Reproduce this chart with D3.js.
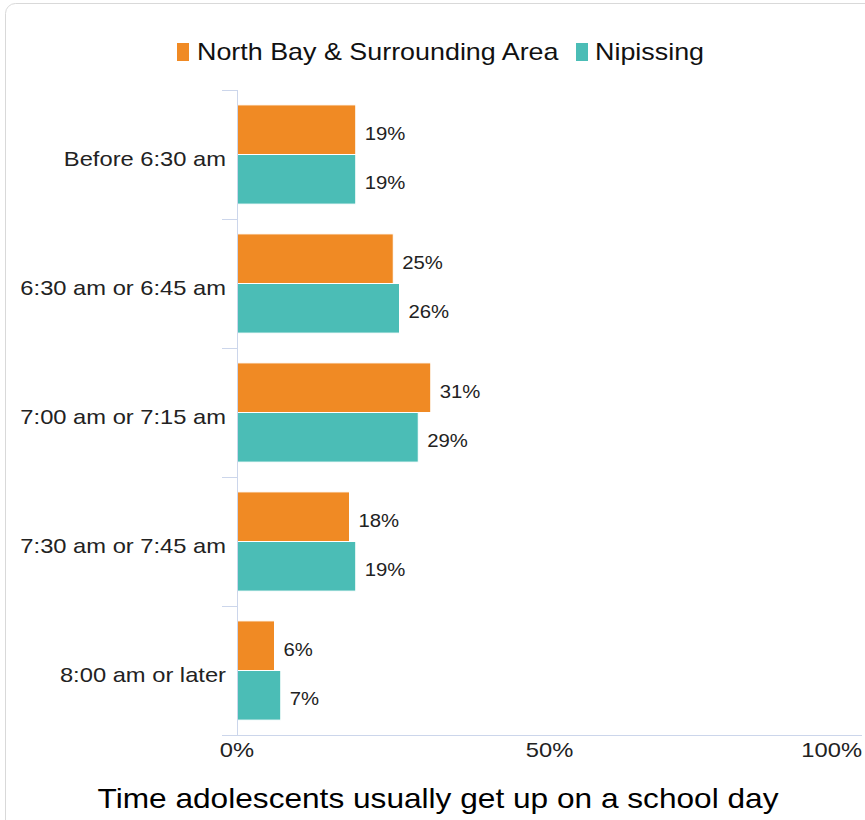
<!DOCTYPE html>
<html>
<head>
<meta charset="utf-8">
<script src="https://cdn.jsdelivr.net/npm/d3@7"></script>
<style>
  html, body { margin: 0; padding: 0; background: #fff; }
  svg { display: block; font-family: "Liberation Sans", Arial, sans-serif; }
</style>
</head>
<body>
<div id="chart"></div>
<script>
const categories = ["Before 6:30 am", "6:30 am or 6:45 am", "7:00 am or 7:15 am", "7:30 am or 7:45 am", "8:00 am or later"];
const seriesNames = ["North Bay & Surrounding Area", "Nipissing"];
const northBay = [19, 25, 31, 18, 6];
const nipissing = [19, 26, 29, 19, 7];
const seriesColors = ["#F08A24", "#4BBDB6"];
const xTickValues = [0, 50, 100];
const chartTitle = "Time adolescents usually get up on a school day";

const W = 865, H = 820;
const SX = 1.13; // horizontal text stretch
const plot = { left: 237, right: 862, top: 90, bottom: 735 };

const svg = d3.select("#chart").append("svg").attr("width", W).attr("height", H);

svg.append("rect")
  .attr("x", 5.5).attr("y", 3.5).attr("width", 900).attr("height", 840)
  .attr("rx", 10).attr("fill", "#fff").attr("stroke", "#d9d9d9").attr("stroke-width", 1);

function txt(parent, x, y, s, size, anchor, fill) {
  return parent.append("text")
    .attr("transform", `translate(${x},${y}) scale(${SX},1)`)
    .attr("font-size", size).attr("text-anchor", anchor || "start")
    .attr("fill", fill || "#000").text(s);
}

const x = d3.scaleLinear().domain([0, 100]).range([plot.left, plot.right]);
const y = d3.scaleBand().domain(categories).range([plot.top, plot.bottom]).padding(0);
const ySub = d3.scaleBand().domain(seriesNames).range([0, y.step()]).paddingInner(0).paddingOuter(0.3);

const data = categories.map((c, i) => ({ cat: c, values: [northBay[i], nipissing[i]] }));

// Bars
const groups = svg.append("g").selectAll("g").data(data).join("g")
  .attr("transform", d => `translate(0,${y(d.cat)})`);
groups.selectAll("rect").data(d => d.values.map((v, j) => ({ v, s: seriesNames[j], j })))
  .join("rect")
  .attr("x", x(0))
  .attr("y", d => ySub(d.s))
  .attr("width", d => x(d.v) - x(0))
  .attr("height", ySub.bandwidth())
  .attr("fill", d => seriesColors[d.j])
  .attr("stroke", "#fff").attr("stroke-width", 1);

groups.each(function(d) {
  const g = d3.select(this);
  d.values.forEach((v, j) => {
    txt(g, x(v) + 9, ySub(seriesNames[j]) + ySub.bandwidth() / 2 + 10, v + "%", 18, "start", "#222");
  });
});

// Y axis line and ticks at band boundaries
const axisColor = "#ccd6eb";
svg.append("line").attr("x1", plot.left + 0.5).attr("x2", plot.left + 0.5)
  .attr("y1", plot.top).attr("y2", plot.bottom).attr("stroke", axisColor);
const bounds = categories.map(c => y(c)).concat([plot.bottom]);
svg.append("g").selectAll("line").data(bounds).join("line")
  .attr("x1", plot.left - 15).attr("x2", plot.left + 0.5)
  .attr("y1", d => Math.round(d) + 0.5).attr("y2", d => Math.round(d) + 0.5)
  .attr("stroke", axisColor);

// Category labels
categories.forEach(c => {
  txt(svg, 226, y(c) + y.bandwidth() / 2 + 11, c, 21, "end", "#222");
});

// X axis
svg.append("line").attr("x1", plot.left).attr("x2", plot.right)
  .attr("y1", plot.bottom + 0.5).attr("y2", plot.bottom + 0.5).attr("stroke", axisColor);
xTickValues.forEach((t, i) => {
  const last = i === xTickValues.length - 1;
  txt(svg, last ? plot.right : x(t), 757, t + "%", 21, last ? "end" : "middle", "#222");
});

// Title
txt(svg, 438, 808, chartTitle, 28, "middle", "#000");

// Legend
const legend = svg.append("g");
const legendItems = [
  { name: seriesNames[0], color: seriesColors[0], sx: 177, tx: 197 },
  { name: seriesNames[1], color: seriesColors[1], sx: 576, tx: 595 }
];
legendItems.forEach(it => {
  legend.append("rect").attr("x", it.sx).attr("y", 43).attr("width", 12).attr("height", 18).attr("fill", it.color);
  txt(legend, it.tx, 60, it.name, 23.8, "start", "#111");
});
</script>
</body>
</html>
